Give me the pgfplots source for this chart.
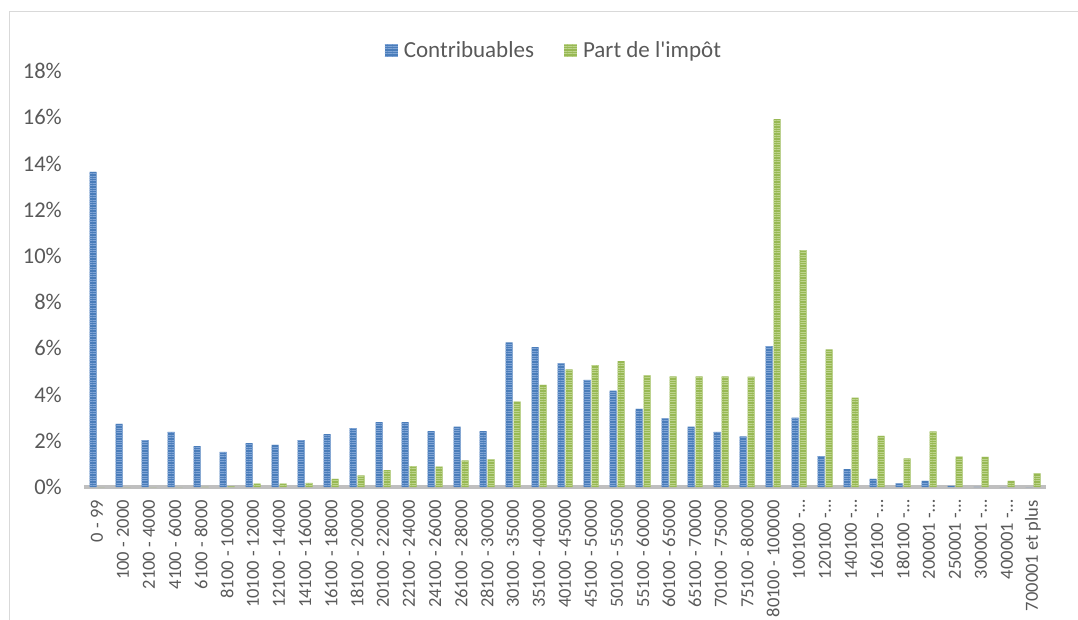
\documentclass[border=0pt]{standalone}
\usepackage{fontspec}
\setmainfont{Carlito}[Ligatures=TeXOff]
\usepackage{pgfplots}
\pgfplotsset{compat=1.18}
\usepackage{pgfplotstable}
\usetikzlibrary{patterns.meta}
\definecolor{barblue}{HTML}{4A7DBA}
\definecolor{barbluel}{HTML}{7FA4D6}
\definecolor{bargreen}{HTML}{98B954}
\definecolor{bargreenl}{HTML}{BDD48C}
\definecolor{txtgray}{HTML}{595959}
\definecolor{axgray}{HTML}{BFBFBF}
\definecolor{brdgray}{HTML}{D9D9D9}
\pgfplotstableread{
x contrib impot
0 13.64 0
1 2.73 0
2 2.03 0
3 2.38 0
4 1.77 0.01
5 1.52 0.03
6 1.90 0.15
7 1.82 0.15
8 2.03 0.18
9 2.29 0.35
10 2.55 0.50
11 2.81 0.73
12 2.81 0.90
13 2.42 0.88
14 2.61 1.15
15 2.42 1.20
16 6.26 3.69
17 6.05 4.42
18 5.35 5.09
19 4.63 5.27
20 4.17 5.45
21 3.38 4.83
22 2.97 4.79
23 2.61 4.79
24 2.38 4.79
25 2.19 4.78
26 6.10 15.92
27 3.00 10.25
28 1.34 5.96
29 0.77 3.87
30 0.35 2.21
31 0.16 1.24
32 0.26 2.41
33 0.05 1.31
34 0.01 1.30
35 0.00 0.26
36 0.00 0.59
}\datatable
\begin{document}
\begin{tikzpicture}
\useasboundingbox (0,0) rectangle (1078bp,620bp);
\draw[brdgray, line width=1bp] (9bp,0) -- (9bp,608bp) -- (1078bp,608bp);
\begin{axis}[
  at={(84bp,133bp)}, anchor=south west,
  scale only axis, width=962bp, height=416bp,
  xmin=-0.5, xmax=36.5, ymin=0, ymax=18,
  ybar, bar width=7bp,
  axis x line*=bottom, axis y line*=left,
  x axis line style={draw=axgray, line width=3bp, -},
  y axis line style={draw=none},
  major tick length=0pt, tick style={draw=none},
  ytick={0,2,...,18},
  yticklabels={0\%,2\%,4\%,6\%,8\%,10\%,12\%,14\%,16\%,18\%},
  yticklabel style={font=\fontsize{22.5bp}{26bp}\selectfont, text=txtgray, anchor=east, inner sep=0pt, xshift=-22bp},
  xtick={0,...,36},
  xticklabels={0 - 99,100 - 2000,2100 - 4000,4100 - 6000,6100 - 8000,8100 - 10000,10100 - 12000,12100 - 14000,14100 - 16000,16100 - 18000,18100 - 20000,20100 - 22000,22100 - 24000,24100 - 26000,26100 - 28000,28100 - 30000,30100 - 35000,35100 - 40000,40100 - 45000,45100 - 50000,50100 - 55000,55100 - 60000,60100 - 65000,65100 - 70000,70100 - 75000,75100 - 80000,80100 - 100000,100100 -…,120100 -…,140100 -…,160100 -…,180100 -…,200001 -…,250001 -…,300001 -…,400001 -…,700001 et plus},
  xticklabel style={font=\fontsize{18.5bp}{22bp}\selectfont, text=txtgray, rotate=90, anchor=east, inner sep=0pt},
  xticklabel shift=13bp,
  legend columns=2,
  legend style={at={(axis description cs:0.489,1.05)}, anchor=center, draw=none, fill=none,
    font=\fontsize{23bp}{27bp}\selectfont, text=txtgray,
    /tikz/every odd column/.append style={column sep=3bp},
    /tikz/every even column/.append style={column sep=27bp},
    nodes={inner sep=3bp}},
  legend image code/.code={\fill[#1] (0bp,-6.5bp) rectangle (13bp,6.5bp);},
  clip=false,
]
\addplot[draw=none, fill=barblue, bar shift=-4bp,
  postaction={pattern={Lines[angle=0,distance=2.4bp,line width=0.8bp]}, pattern color=barbluel}]
  table[x=x, y=contrib]{\datatable};
\addplot[draw=none, fill=bargreen, bar shift=4bp,
  postaction={pattern={Lines[angle=0,distance=2.4bp,line width=0.8bp]}, pattern color=bargreenl}]
  table[x=x, y=impot]{\datatable};
\legend{Contribuables, Part de l'impôt}
\end{axis}
\end{tikzpicture}
\end{document}
